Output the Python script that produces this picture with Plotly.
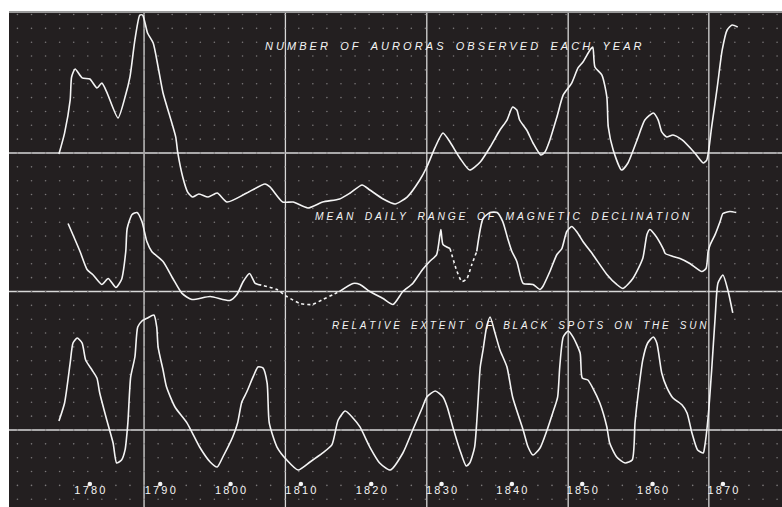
import plotly.graph_objects as go
import numpy as np

# ---------------- data (years, value in grid divisions above each curve's own baseline) ----------------
aurora_years = [1775.6, 1776.4, 1777.2, 1777.4, 1777.9, 1778.9, 1780.0, 1781.0, 1781.7, 1782.4, 1784.0, 1785.0,
                1785.7, 1786.4, 1787.1, 1787.5, 1788.2, 1789.0, 1789.7, 1790.4, 1791.4, 1792.2, 1792.5, 1793.2,
                1793.9, 1794.6, 1795.5, 1796.8, 1798.1, 1799.5, 1802.3, 1804.9, 1805.6, 1807.4, 1808.9, 1811.0,
                1813.1, 1815.5, 1817.0, 1818.7, 1819.8, 1821.7, 1823.4, 1825.1, 1826.9, 1827.9, 1829.1, 1830.2,
                1831.2, 1832.6, 1834.0, 1835.5, 1836.9, 1838.3, 1839.3, 1840.1, 1840.7, 1841.1, 1842.1, 1843.0,
                1844.1, 1844.7, 1845.4, 1846.4, 1847.3, 1848.5, 1849.4, 1850.1, 1851.1, 1851.5, 1851.8, 1852.8,
                1853.5, 1853.7, 1854.4, 1855.6, 1856.5, 1857.8, 1858.9, 1860.1, 1860.8, 1861.3, 1862.0, 1862.9,
                1864.2, 1866.0, 1867.2, 1867.7, 1868.4, 1869.2, 1869.9, 1870.6, 1871.3, 1872.1]
aurora_vals = [-0.07, 1.44, 3.83, 5.49, 6.06, 5.42, 5.34, 4.69, 5.05, 4.40, 2.53, 4.04,
               5.49, 8.16, 9.96, 9.96, 8.66, 7.94, 6.21, 4.33, 2.60, 1.16, 0.0, -1.73,
               -2.82, -3.18, -2.96, -3.18, -2.89, -3.54, -2.89, -2.24, -2.45, -3.54, -3.54, -3.97,
               -3.54, -3.32, -2.89, -2.31, -2.67, -3.32, -3.68, -3.18, -1.95, -1.01, 0.43, 1.44,
               0.79, -0.36, -1.23, -0.65, 0.43, 1.66, 2.38, 3.32, 3.10, 2.38, 1.66, 0.72,
               -0.14, 0.07, 0.94, 2.60, 4.19, 5.05, 6.14, 6.57, 7.44, 7.65, 6.21, 5.63,
               4.04, 1.88, 0.22, -1.23, -0.72, 0.94, 2.38, 2.89, 2.38, 1.52, 1.16, 1.30,
               0.94, 0.0, -0.72, -0.51, 1.88, 4.77, 7.44, 8.88, 9.24, 9.10]

# magnetic declination: solid pieces and dotted (interpolated) pieces
mag_a_years = [1776.9, 1778.6, 1779.6, 1780.4, 1781.7, 1782.6, 1783.7, 1784.5, 1785.1, 1785.3, 1786.0, 1786.7,
               1787.4, 1788.1, 1788.8, 1790.4, 1791.8, 1793.1, 1794.5, 1797.1, 1799.9, 1800.9, 1801.8, 1802.7,
               1803.5, 1803.9]
mag_a_vals = [4.91, 2.89, 1.59, 1.23, 0.51, 0.94, 0.29, 0.87, 2.89, 4.55, 5.56, 5.70,
              5.05, 3.61, 2.89, 2.17, 0.94, -0.14, -0.58, -0.36, -0.65, -0.22, 0.72, 1.30,
              0.58, 0.51]
mag_b_years = [1803.9, 1805.2, 1806.6, 1808.0, 1809.9, 1811.6, 1813.1, 1814.6, 1815.5]
mag_b_vals = [0.51, 0.36, 0.14, -0.36, -0.87, -0.94, -0.58, -0.22, 0.0]
mag_c_years = [1815.5, 1817.4, 1818.4, 1819.8, 1821.7, 1823.1, 1824.5, 1825.9, 1827.3, 1828.3, 1829.3, 1829.9,
               1830.2, 1831.2]
mag_c_vals = [0.0, 0.58, 0.51, 0.0, -0.51, -0.94, 0.0, 0.58, 1.59, 2.17, 2.67, 4.48,
              3.39, 3.10]
mag_d_years = [1831.2, 1832.2, 1832.9, 1833.6, 1834.3, 1835.0]
mag_d_vals = [3.10, 1.44, 0.72, 0.94, 1.95, 2.89]
mag_e_years = [1835.0, 1835.9, 1836.9, 1837.9, 1838.7, 1839.4, 1840.0, 1840.7, 1841.6, 1843.0, 1844.0, 1844.4,
               1845.4, 1846.4, 1847.1, 1847.8, 1848.5, 1849.2, 1850.1, 1851.5, 1853.5, 1854.9, 1855.8, 1857.2,
               1858.6, 1859.2, 1859.6, 1860.3, 1861.5, 1861.8, 1862.9, 1863.9, 1865.3, 1867.0, 1867.6, 1867.9,
               1868.2, 1868.9, 1869.6, 1870.0, 1871.0, 1871.9]
mag_e_vals = [2.89, 5.27, 5.70, 5.70, 5.05, 3.83, 2.89, 2.17, 0.58, 0.51, 0.14, 0.36,
              1.44, 2.67, 3.10, 4.33, 4.69, 4.33, 3.61, 2.67, 1.23, 0.51, 0.22, 0.94,
              2.38, 4.12, 4.48, 4.12, 3.10, 2.74, 2.53, 2.38, 2.02, 1.44, 1.66, 2.89,
              3.39, 4.12, 5.05, 5.63, 5.78, 5.70]

spots_years = [1775.6, 1776.4, 1777.2, 1777.6, 1778.2, 1778.9, 1779.4, 1780.3, 1781.0, 1781.4, 1782.4, 1783.3,
               1783.8, 1784.5, 1785.0, 1785.4, 1785.8, 1786.4, 1786.8, 1787.4, 1788.2, 1789.1, 1789.5, 1789.7,
               1790.4, 1790.9, 1792.1, 1793.8, 1795.6, 1797.1, 1798.1, 1798.9, 1800.3, 1801.0, 1801.6, 1802.3,
               1803.2, 1803.9, 1804.6, 1805.2, 1805.5, 1806.6, 1808.0, 1809.6, 1811.3, 1813.1, 1814.4, 1815.3,
               1816.3, 1817.4, 1818.4, 1819.8, 1821.2, 1822.7, 1824.5, 1825.9, 1827.3, 1827.9, 1829.1, 1830.2,
               1830.8, 1831.6, 1832.6, 1833.5, 1834.0, 1834.7, 1835.5, 1835.9, 1836.4, 1836.9, 1837.6, 1838.3,
               1839.3, 1840.1, 1841.6, 1842.3, 1843.0, 1844.0, 1845.0, 1845.8, 1846.5, 1846.8, 1847.3, 1848.0,
               1848.7, 1849.7, 1850.0, 1850.8, 1851.5, 1852.5, 1853.5, 1853.9, 1854.9, 1856.1, 1857.1, 1857.5,
               1857.9, 1858.6, 1859.3, 1860.1, 1860.6, 1861.3, 1862.0, 1862.9, 1864.2, 1864.9, 1865.6, 1866.4,
               1867.2, 1867.4, 1867.9, 1868.4, 1868.9, 1869.3, 1870.0, 1870.7, 1871.4]
spots_vals = [0.65, 1.95, 4.84, 6.28, 6.64, 6.28, 5.05, 4.33, 3.75, 2.67, 0.72, -0.94,
              -2.38, -2.17, -1.44, 0.51, 3.83, 5.27, 7.44, 7.87, 8.09, 8.30, 7.44, 5.99,
              4.33, 3.10, 1.66, 0.51, -1.23, -2.31, -2.67, -1.95, -0.51, 0.51, 2.02, 2.74,
              3.83, 4.55, 4.48, 3.39, 0.51, -1.23, -2.17, -2.89, -2.31, -1.66, -1.08, 0.72,
              1.37, 0.87, 0.22, -1.23, -2.38, -2.89, -1.66, 0.0, 1.66, 2.38, 2.82, 2.38,
              1.66, 0.22, -1.44, -2.60, -2.38, -1.23, 4.55, 5.78, 7.44, 8.16, 7.00, 5.78,
              4.55, 2.38, 0.0, -1.23, -1.81, -1.30, 0.0, 1.23, 2.38, 4.55, 6.71, 7.15,
              6.71, 5.56, 3.75, 3.61, 3.03, 1.95, 0.22, -0.94, -1.95, -2.38, -2.17, 0.51,
              2.38, 5.05, 6.28, 6.71, 6.28, 4.12, 3.10, 2.31, 1.81, 1.23, -0.22, -1.44,
              -1.66, -1.23, 0.94, 4.33, 8.16, 10.61, 11.19, 10.11, 8.45]

tick_years = [1780, 1790, 1800, 1810, 1820, 1830, 1840, 1850, 1860, 1870]
tick_labels = ["1780", "1790", "1800", "1810", "1820", "1830", "1840", "1850", "1860", "1870"]
major_vlines = [1787.7, 1807.8, 1827.9, 1848.0, 1868.0]
baselines = {"aurora": 20, "magnetic": 10, "spots": 0}

titles = ["NUMBER OF AURORAS OBSERVED EACH YEAR",
          "MEAN DAILY RANGE OF MAGNETIC DECLINATION",
          "RELATIVE EXTENT OF BLACK SPOTS ON THE SUN"]

# ---------------- figure ----------------
BG = "#231f20"
LINE = "#f4f4f4"
X_RANGE = [1768.5, 1878.4]
Y_RANGE = [-5.56, 30.18]

fig = go.Figure()

# dotted grid (dots at 2-year, 1-division spacing)
gx = np.arange(major_vlines[0] - 2.0 * 10, X_RANGE[1], 2.0)
gy = np.arange(-5, 31, 1.0)
GX, GY = np.meshgrid(gx, gy)
fig.add_trace(go.Scatter(x=GX.ravel(), y=GY.ravel(), mode="markers",
                         marker=dict(size=1.6, color="#7a7778"), hoverinfo="skip", showlegend=False))

def curve(xs, vs, base, dash="solid"):
    fig.add_trace(go.Scatter(x=xs, y=[v + base for v in vs], mode="lines",
                             line=dict(color=LINE, width=1.6, shape="spline", smoothing=0.6, dash=dash),
                             hoverinfo="skip", showlegend=False))

curve(aurora_years, aurora_vals, baselines["aurora"])
curve(mag_a_years, mag_a_vals, baselines["magnetic"])
curve(mag_b_years, mag_b_vals, baselines["magnetic"], dash="dot")
curve(mag_c_years, mag_c_vals, baselines["magnetic"])
curve(mag_d_years, mag_d_vals, baselines["magnetic"], dash="dot")
curve(mag_e_years, mag_e_vals, baselines["magnetic"])
curve(spots_years, spots_vals, baselines["spots"])

# year dots and labels
fig.add_trace(go.Scatter(x=tick_years, y=[-3.9] * len(tick_years), mode="markers",
                         marker=dict(size=4.5, color="#f4f4f4"), hoverinfo="skip", showlegend=False))
fig.add_trace(go.Scatter(x=tick_years, y=[-4.45] * len(tick_years), mode="text",
                         text=["\u2009".join(t) for t in tick_labels],
                         textfont=dict(family="Liberation Sans", size=11, color="#f4f4f4"),
                         hoverinfo="skip", showlegend=False))

shapes = []
for b in baselines.values():
    shapes.append(dict(type="line", xref="paper", x0=0, x1=1, yref="y", y0=b, y1=b,
                       line=dict(color="#d8d8d8", width=1.3), layer="below"))
for v in major_vlines:
    shapes.append(dict(type="line", xref="x", x0=v, x1=v, yref="paper", y0=0, y1=1,
                       line=dict(color="#d8d8d8", width=1.3), layer="below"))
shapes.append(dict(type="line", xref="paper", x0=0, x1=1, yref="paper", y0=1, y1=1,
                   line=dict(color="#9a9a9a", width=2)))

def spaced(s):
    return "\u00a0\u00a0\u00a0\u00a0".join("\u00a0".join(w) for w in s.split(" "))

title_pos = [(1804.6, 27.73), (1811.7, 15.45), (1814.1, 7.58)]
title_sizes = [11, 10.3, 10]
annotations = []
for t, (x, y), fs in zip(titles, title_pos, title_sizes):
    annotations.append(dict(text=spaced(t), x=x, y=y, xref="x", yref="y", xanchor="left",
                            yanchor="middle", showarrow=False,
                            font=dict(family="Liberation Sans", size=fs, color="#f4f4f4", style="italic")))

fig.update_layout(
    width=782, height=507,
    margin=dict(l=9, r=0, t=12, b=0),
    paper_bgcolor="white", plot_bgcolor=BG,
    xaxis=dict(range=X_RANGE, visible=False, showgrid=False, zeroline=False),
    yaxis=dict(range=Y_RANGE, visible=False, showgrid=False, zeroline=False),
    shapes=shapes, annotations=annotations, showlegend=False,
)

fig.write_html("out.html", config={"displayModeBar": False},
               post_script="document.body.style.margin='0';document.body.style.overflow='hidden';")
